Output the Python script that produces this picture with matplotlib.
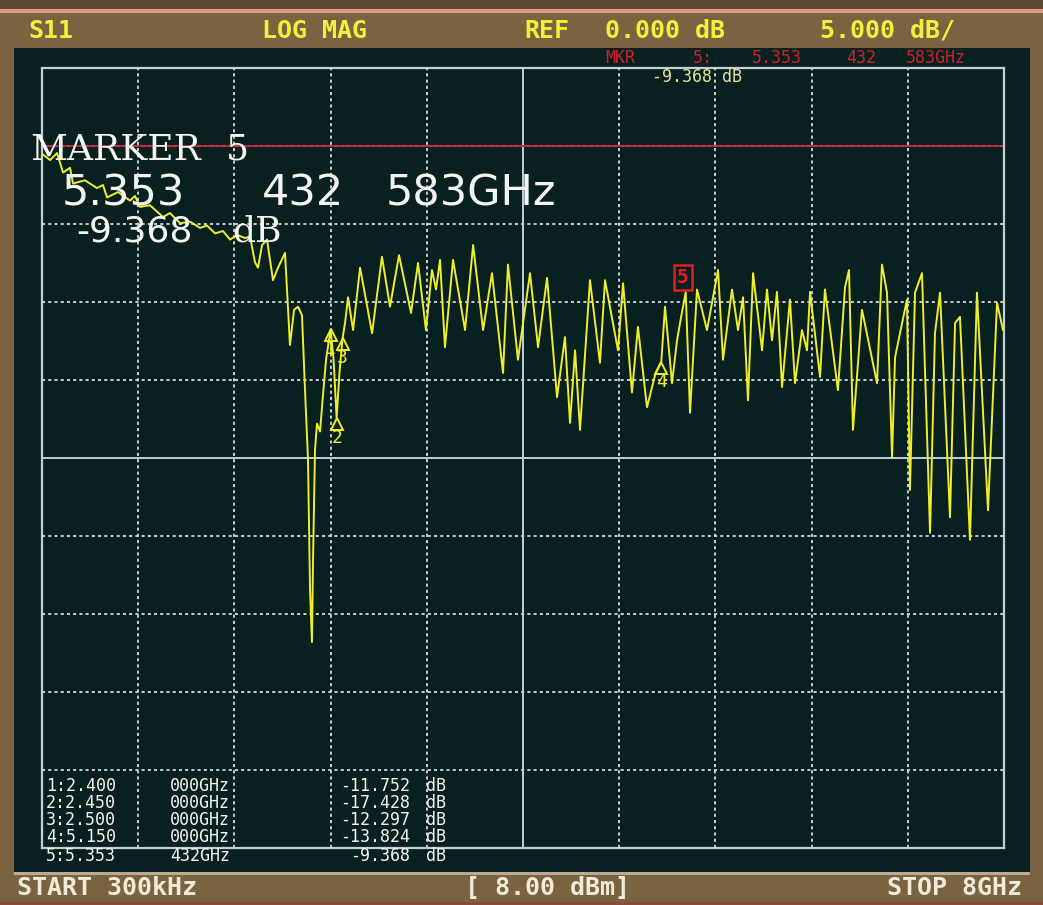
import matplotlib
matplotlib.use("Agg")
import matplotlib.pyplot as plt
from matplotlib.patches import Rectangle
from matplotlib.transforms import offset_copy
import numpy as np

# ---------------- data ----------------
freq_ghz = [0.0003, 0.067, 0.125, 0.175, 0.233, 0.258, 0.358, 0.457, 0.507, 0.541,
            0.632, 0.732, 0.773, 0.815, 0.898, 1.006, 1.064, 1.148, 1.231, 1.314,
            1.372, 1.439, 1.505, 1.564, 1.622, 1.688, 1.730, 1.771, 1.796, 1.830,
            1.871, 1.921, 1.963, 2.021, 2.062, 2.096, 2.129, 2.162, 2.187, 2.212,
            2.229, 2.245, 2.254, 2.270, 2.287, 2.312, 2.337, 2.362, 2.400, 2.425,
            2.450, 2.475, 2.500, 2.520, 2.545, 2.587, 2.645, 2.695, 2.745, 2.827,
            2.894, 2.969, 3.069, 3.127, 3.193, 3.243, 3.277, 3.310, 3.351, 3.418,
            3.518, 3.585, 3.668, 3.742, 3.834, 3.875, 3.958, 4.058, 4.125, 4.200,
            4.283, 4.349, 4.391, 4.433, 4.474, 4.557, 4.640, 4.682, 4.790, 4.832,
            4.906, 4.956, 5.031, 5.098, 5.150, 5.181, 5.239, 5.281, 5.314, 5.353,
            5.389, 5.447, 5.530, 5.622, 5.663, 5.738, 5.788, 5.830, 5.871, 5.913,
            5.988, 6.029, 6.071, 6.112, 6.154, 6.220, 6.262, 6.320, 6.362, 6.387,
            6.470, 6.511, 6.619, 6.678, 6.711, 6.744, 6.819, 6.944, 6.985, 7.027,
            7.069, 7.094, 7.135, 7.193, 7.218, 7.260, 7.318, 7.385, 7.426, 7.468,
            7.551, 7.593, 7.634, 7.717, 7.775, 7.867, 7.942, 7.992, 8.000]

s11_db = [-0.5, -0.9, -0.45, -1.7, -1.4, -2.4, -2.2, -2.7, -2.5, -3.3,
          -2.95, -3.5, -3.2, -3.9, -3.8, -4.55, -4.3, -4.95, -4.85, -5.25,
          -5.1, -5.6, -5.45, -6.0, -5.7, -5.9, -5.8, -7.45, -7.8, -6.35,
          -6.0, -8.6, -7.8, -6.85, -12.75, -10.5, -10.3, -10.85, -15.6, -20.1,
          -28.5, -31.8, -26.5, -19.5, -17.8, -18.3, -15.95, -13.7, -11.752, -13.7,
          -17.428, -14.4, -12.297, -11.35, -9.7, -11.8, -7.8, -9.9, -12.0, -7.1,
          -10.3, -7.0, -10.7, -7.5, -11.8, -7.95, -9.2, -7.3, -12.9, -7.3,
          -11.8, -6.35, -11.8, -8.15, -14.55, -7.6, -13.7, -8.15, -12.9, -8.45,
          -16.1, -12.25, -17.75, -13.1, -18.2, -8.6, -13.9, -8.6, -13.1, -8.8,
          -15.8, -11.6, -16.75, -14.7, -13.824, -10.3, -15.2, -12.45, -11.0, -9.368,
          -17.1, -9.2, -11.8, -7.95, -13.7, -9.2, -11.8, -9.7, -16.3, -8.15,
          -13.1, -9.2, -12.45, -9.35, -15.45, -9.85, -15.2, -11.8, -13.1, -9.35,
          -14.8, -9.2, -15.65, -9.05, -7.95, -18.2, -10.5, -15.2, -7.6, -9.4,
          -19.95, -13.55, -12.0, -9.85, -22.05, -9.4, -8.15, -24.8, -12.0, -9.4,
          -23.8, -11.35, -10.95, -25.25, -9.4, -23.35, -10.05, -11.8, -11.8]

marker_ids = [1, 2, 3, 4, 5]
marker_freq = [2.400, 2.450, 2.500, 5.150, 5.353432583]
marker_db = [-11.752, -17.428, -12.297, -13.824, -9.368]
marker_freq_labels = ["2.400 000GHz", "2.450 000GHz", "2.500 000GHz",
                      "5.150 000GHz", "5.353 432GHz"]

ref_db = 0.0
scale_db = 5.0
start_ghz, stop_ghz = 0.0003, 8.0

# ---------------- styling ----------------
W, H = 1043, 905
BROWN = "#7a6341"
SCREEN = "#08201f"
GRID = "#c6ced6"
YELLOW = "#eeee2a"
RED = "#d0202c"
WHITE = "#f4f4f4"
CREAM = "#f2ead6"

fig = plt.figure(figsize=(W / 100, H / 100), dpi=100)
fig.patch.set_facecolor(BROWN)


def fx(x):
    return x / W


def fy(y):
    return 1 - y / H


def rect(x0, y0, x1, y1, color):
    fig.add_artist(Rectangle((fx(x0), fy(y1)), fx(x1) - fx(x0), fy(y0) - fy(y1),
                             transform=fig.transFigure, fc=color, ec="none", zorder=-5))


rect(0, 0, W, 9, "#5e4a30")
rect(0, 9, W, 13, "#d79c84")
rect(14, 48, 1030, 872, SCREEN)
rect(14, 872, 1030, 875, "#b8ab96")
rect(0, 902, W, 905, "#8a4a38")

# ---------------- axes ----------------
ax = fig.add_axes([fx(42), fy(848), fx(1004) - fx(42), fy(68) - fy(848)])
ax.set_facecolor("none")
ax.set_xlim(0, stop_ghz)
ax.set_ylim(ref_db - 9 * scale_db, ref_db + scale_db)
ax.set_xticks([])
ax.set_yticks([])
for sp in ax.spines.values():
    sp.set_color(GRID)
    sp.set_linewidth(1.6)

xdiv = stop_ghz / 10
for i in range(1, 10):
    x = i * xdiv
    if i == 5:
        ax.axvline(x, color=GRID, lw=1.4, zorder=1)
    else:
        ax.axvline(x, color=GRID, lw=1.4, dashes=(1.6, 1.6), zorder=1)
for i in range(1, 10):
    y = ref_db + scale_db - i * scale_db
    if i == 5:
        ax.axhline(y, color=GRID, lw=1.4, zorder=1)
    else:
        ax.axhline(y, color=GRID, lw=1.4, dashes=(1.6, 1.6), zorder=1)

ax.axhline(ref_db, color="#c8283c", lw=1.3, zorder=2)

ax.plot(freq_ghz, s11_db, color=YELLOW, lw=1.4, zorder=5)

tri_tf = offset_copy(ax.transData, fig=fig, x=0, y=-6, units="dots")
lab_tf = offset_copy(ax.transData, fig=fig, x=0, y=-20, units="dots")
box_tf = offset_copy(ax.transData, fig=fig, x=-3, y=15, units="dots")
for mid, f, v in zip(marker_ids, marker_freq, marker_db):
    if mid == 5:
        ax.text(f, v, str(mid), transform=box_tf, color="#e02020", fontsize=14,
                fontweight="bold", family="DejaVu Sans Mono", ha="center", va="center",
                zorder=7,
                bbox=dict(boxstyle="square,pad=0.15", fc="none", ec="#e02020", lw=1.8))
    else:
        ax.plot([f], [v], marker="^", ms=9, mfc="none", mec=YELLOW, mew=1.4,
                transform=tri_tf, zorder=6, clip_on=False)
        ax.text(f, v, str(mid), transform=lab_tf, color=YELLOW, fontsize=13,
                family="DejaVu Sans Mono", ha="center", va="center", zorder=6)

# ---------------- texts ----------------
hdr = dict(color="#f2f03a", fontsize=18, fontweight="bold", family="DejaVu Sans Mono",
           va="center")
fig.text(fx(28), fy(31), "S11", **hdr)
fig.text(fx(262), fy(31), "LOG MAG", **hdr)
fig.text(fx(524), fy(31), "REF", **hdr)
fig.text(fx(605), fy(31), f"{ref_db:.3f} dB", **hdr)
fig.text(fx(820), fy(31), f"{scale_db:.3f} dB/", **hdr)

mk = dict(color=RED, fontsize=12, family="DejaVu Sans Mono", va="center")
fig.text(fx(605), fy(58), "MKR", **mk)
fig.text(fx(693), fy(58), "5:", **mk)
fig.text(fx(752), fy(58), "5.353", **mk)
fig.text(fx(846), fy(58), "432", **mk)
fig.text(fx(906), fy(58), "583GHz", **mk)
fig.text(fx(652), fy(77), f"{marker_db[4]:.3f} dB", color="#e4e49a", fontsize=12,
         family="DejaVu Sans Mono", va="center")

big = dict(color=WHITE, va="baseline", zorder=3)
fig.text(fx(30), fy(160), "MARKER", fontsize=26, family="DejaVu Serif", **big)
fig.text(fx(226), fy(160), "5", fontsize=26, family="DejaVu Serif", **big)
fig.text(fx(62), fy(205), "5.353", fontsize=31, family="DejaVu Sans", **big)
fig.text(fx(262), fy(205), "432", fontsize=31, family="DejaVu Sans", **big)
fig.text(fx(386), fy(205), "583GHz", fontsize=31, family="DejaVu Sans", **big)
fig.text(fx(76), fy(241), f"{marker_db[4]:.3f}", fontsize=26, family="DejaVu Sans", **big)
fig.text(fx(232), fy(241), "dB", fontsize=26, family="DejaVu Serif", **big)

row_y = [786, 803, 820, 837, 856]
tb = dict(color=WHITE, fontsize=12, family="DejaVu Sans Mono", va="center", zorder=3)
for mid, fl, v, yy in zip(marker_ids, marker_freq_labels, marker_db, row_y):
    a, b = fl.split(" ")
    fig.text(fx(46), fy(yy), f"{mid}:{a}", ha="left", **tb)
    fig.text(fx(170), fy(yy), b, ha="left", **tb)
    fig.text(fx(410), fy(yy), f"{v:.3f}", ha="right", **tb)
    fig.text(fx(426), fy(yy), "dB", **tb)

bot = dict(color=CREAM, fontsize=18, fontweight="bold", family="DejaVu Sans Mono",
           va="center")
fig.text(fx(17), fy(888), "START 300kHz", **bot)
fig.text(fx(465), fy(888), "[ 8.00 dBm]", **bot)
fig.text(fx(1022), fy(888), "STOP 8GHz", ha="right", **bot)

fig.savefig("out.png", dpi=100, facecolor=fig.get_facecolor())
